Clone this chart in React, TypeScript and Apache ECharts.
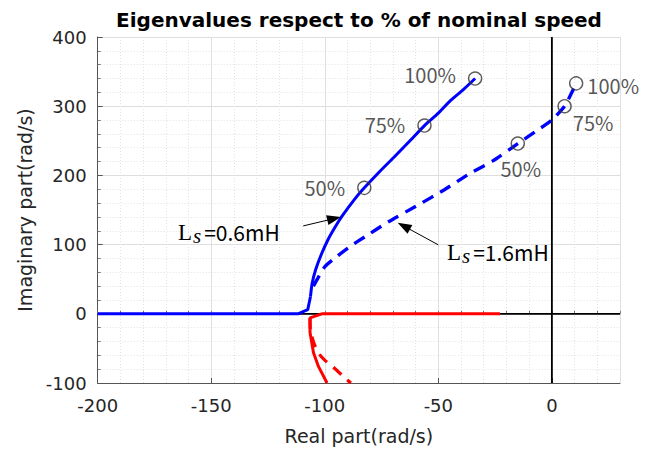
import React, { useEffect, useRef } from 'react';
import * as echarts from 'echarts';

// ---- data ----
const speedLabels = ['50%', '75%', '100%'];

// Ls = 0.6 mH, blue solid: real axis part and the rising branch
const ls06RealX = [-200, -111.8, -107.5, -106.3];
const ls06RealY = [0, 0, 6, 25];
const ls06X = [-106.3, -105.5, -104, -101.5, -98.6, -95.5, -92.4, -87, -82.6, -76, -69, -62.5, -56.1, -50, -45, -39, -33.8];
const ls06Y = [25, 45, 64, 86, 107, 125, 141, 165, 182, 205, 228, 250, 272, 290, 307, 324, 340];
// Ls = 1.6 mH, blue dashed
const ls16X = [-105, -100, -95, -89, -82, -72, -59, -47.5, -36, -26, -15, -6, 0, 5.6, 8.5, 10.7];
const ls16Y = [40, 68, 82, 97, 112, 133, 157, 179, 203, 221, 246, 266, 280, 300, 318, 333];
// real / lower branch, red solid (0.6 mH)
const red06X = [-22.8, -101.3, -106.5, -106.5, -105, -102.8, -99];
const red06Y = [0, 0, -6, -27, -56, -76, -100];
// lower branch, red dashed (1.6 mH)
const red16X = [-106.5, -106.3, -104.5, -102, -99, -96, -91, -88.5];
const red16Y = [-6, -25, -45, -60, -70, -78, -93, -100];

// speed markers
const ls06MarkX = [-82.6, -56.1, -33.8];
const ls06MarkY = [182, 272, 340];
const ls16MarkX = [-15, 5.6, 10.7];
const ls16MarkY = [246, 300, 333];

// axis ranges
const xRange = [-200, 30];
const yRange = [-100, 400];

const pair = (xs: number[], ys: number[]) => xs.map((x, i) => [x, ys[i]]);

const pctFont = { color: '#2a2a2a', fontFamily: 'Noto Sans CJK SC', fontSize: 20 };

export default function App() {
  const ref = useRef<HTMLDivElement>(null);

  useEffect(() => {
    document.body.style.margin = '0';
    const chart = echarts.init(ref.current!, undefined, { renderer: 'svg' });

    const solidOffsets = [0, -1, -4];
    const solidMarks = pair(ls06MarkX, ls06MarkY).map((v, i) => ({
      value: v,
      label: { show: true, formatter: speedLabels[i], position: 'left', distance: 12, offset: [0, solidOffsets[i]], ...pctFont },
    }));
    const dashedLabelCfg = [
      { position: 'bottom', distance: 8, offset: [3, 0] },
      { position: 'right', distance: 1, offset: [0, 16] },
      { position: 'right', distance: 4, offset: [0, 2] },
    ];
    const dashedMarks = pair(ls16MarkX, ls16MarkY).map((v, i) => ({
      value: v,
      label: { show: true, formatter: speedLabels[i], ...dashedLabelCfg[i], ...pctFont },
    }));

    const axisFont = { color: '#262626', fontFamily: 'DejaVu Sans', fontSize: 18 };

    const annRich = {
      L: { fontFamily: 'Liberation Serif', fontSize: 23, color: '#1a1a1a' },
      s: { fontFamily: 'Liberation Serif', fontStyle: 'italic', fontSize: 21, color: '#1a1a1a', padding: [7, 3, 0, 1] },
      t: { fontFamily: 'Noto Sans CJK SC', fontSize: 21, color: '#1a1a1a' },
    };

    chart.setOption({
      animation: false,
      backgroundColor: '#fff',
      grid: { left: 97.7, right: 35, top: 37, bottom: 69 },
      xAxis: [
        {
          type: 'value', min: xRange[0], max: xRange[1], interval: 50, position: 'bottom',
          name: 'Real part(rad/s)', nameLocation: 'middle', nameGap: 43,
          nameTextStyle: { ...axisFont, fontSize: 19 },
          axisLine: { show: true, onZero: false, lineStyle: { color: '#555', width: 1 } },
          axisTick: { show: true, inside: true, length: 5, lineStyle: { color: '#555' } },
          axisLabel: { ...axisFont, margin: 13, showMaxLabel: false, formatter: (v: number) => (v > 0 ? '' : String(v)) },
          splitLine: { show: true, lineStyle: { color: '#dedede', width: 1 } },
        },
        {
          type: 'value', min: xRange[0], max: xRange[1], interval: 10, position: 'bottom',
          axisLine: { show: false },
          axisTick: { show: true, inside: true, length: 3, lineStyle: { color: '#777' } },
          axisLabel: { show: false },
          splitLine: { show: true, lineStyle: { color: '#e2e2e2', width: 1, type: [1, 2] } },
        },
      ],
      yAxis: {
        type: 'value', min: yRange[0], max: yRange[1], interval: 100,
        name: 'Imaginary part(rad/s)', nameLocation: 'middle', nameGap: 60,
        nameTextStyle: { ...axisFont, fontSize: 19 },
        axisLine: { show: true, onZero: false, lineStyle: { color: '#555', width: 1 } },
        axisTick: { show: true, inside: true, length: 5, lineStyle: { color: '#555' } },
        axisLabel: { ...axisFont, margin: 11 },
        minorTick: { show: true, splitNumber: 5, length: 3, lineStyle: { color: '#777' } },
        splitLine: { show: true, lineStyle: { color: '#dedede', width: 1 } },
        minorSplitLine: { show: true, lineStyle: { color: '#e2e2e2', width: 1, type: [1, 2] } },
      },
      graphic: [
        {
          type: 'text', x: 359, y: 20, z: 10,
          style: { text: 'Eigenvalues respect to % of nominal speed', fontFamily: 'DejaVu Sans', fontWeight: 'bold', fontSize: 20, fill: '#000', textAlign: 'center', textVerticalAlign: 'middle' },
        },
        {
          type: 'text', x: 178, y: 232, z: 10,
          style: { text: '{L|L}{s|s}{t|=0.6mH}', rich: annRich, textVerticalAlign: 'middle' },
        },
        {
          type: 'text', x: 447, y: 252, z: 10,
          style: { text: '{L|L}{s|s}{t|=1.6mH}', rich: annRich, textVerticalAlign: 'middle' },
        },
      ],
      series: [
        {
          type: 'line', data: [[0, yRange[0]], [0, yRange[1]]], symbol: 'none', silent: true, z: 1,
          lineStyle: { color: '#000', width: 1.8 },
        },
        {
          type: 'line', data: [[xRange[0], 0], [xRange[1], 0]], symbol: 'none', silent: true, z: 1,
          lineStyle: { color: '#000', width: 1.8 },
        },
        {
          type: 'line', data: pair(red16X, red16Y), symbol: 'none', z: 2, smooth: 0.2,
          lineStyle: { color: '#ff0000', width: 3.2, type: [11, 8] },
        },
        {
          type: 'line', data: pair(red06X, red06Y), symbol: 'none', z: 2,
          lineStyle: { color: '#ff0000', width: 3 },
        },
        {
          type: 'line', data: pair(ls16X, ls16Y), symbol: 'none', z: 3, smooth: 0.2,
          lineStyle: { color: '#0000ff', width: 3.4, type: [12, 8] },
        },
        {
          type: 'line', data: pair(ls06RealX, ls06RealY), symbol: 'none', z: 3,
          lineStyle: { color: '#0000ff', width: 3 },
        },
        {
          type: 'line', data: pair(ls06X, ls06Y), symbol: 'none', z: 3, smooth: 0.3,
          lineStyle: { color: '#0000ff', width: 3 },
        },
        {
          type: 'scatter', data: solidMarks, symbol: 'circle', symbolSize: 13, z: 5,
          itemStyle: { color: 'rgba(255,255,255,0)', borderColor: '#333', borderWidth: 1.4 },
        },
        {
          type: 'scatter', data: dashedMarks, symbol: 'circle', symbolSize: 13, z: 5,
          itemStyle: { color: 'rgba(255,255,255,0)', borderColor: '#333', borderWidth: 1.4 },
        },
        {
          type: 'line', data: [], z: 6,
          markLine: {
            silent: true, animation: false,
            symbol: ['none', 'triangle'], symbolSize: [10, 14],
            label: { show: false },
            lineStyle: { color: '#000', width: 1, type: 'solid' },
            data: [
              [{ coord: [-109.5, 127] }, { coord: [-95.9, 137.6] }],
              [{ coord: [-50, 99.6] }, { coord: [-65.2, 126.8] }],
            ],
          },
        },
      ],
    });
    return () => chart.dispose();
  }, []);

  return <div ref={ref} style={{ position: 'fixed', left: 0, top: 0, width: 655, height: 452 }} />;
}
